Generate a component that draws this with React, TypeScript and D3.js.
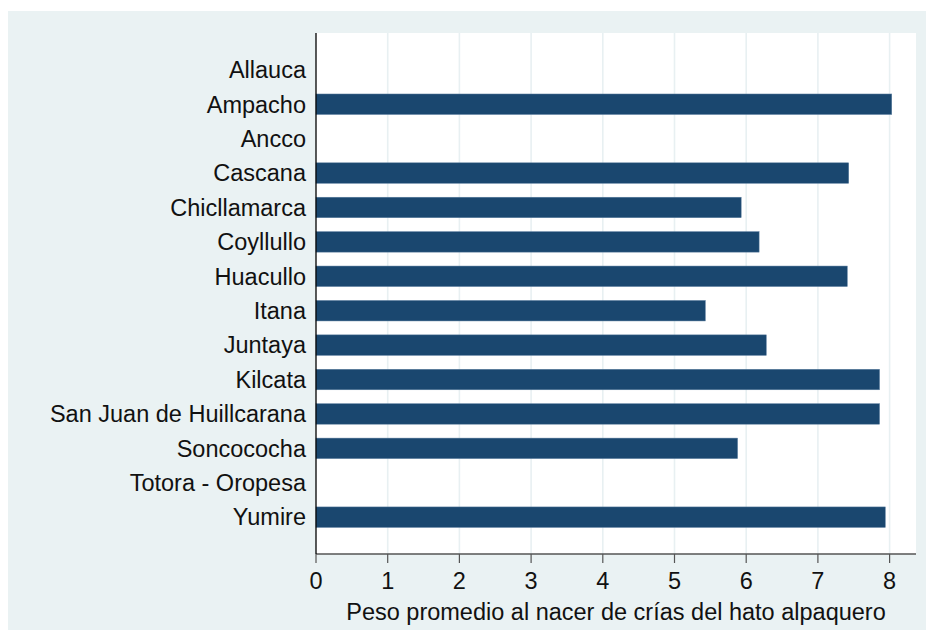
import React from "react";
import * as d3 from "d3";

const categories = [
  "Allauca",
  "Ampacho",
  "Ancco",
  "Cascana",
  "Chicllamarca",
  "Coyllullo",
  "Huacullo",
  "Itana",
  "Juntaya",
  "Kilcata",
  "San Juan de Huillcarana",
  "Soncococha",
  "Totora - Oropesa",
  "Yumire",
];
const values: (number | null)[] = [
  null, 8.03, null, 7.43, 5.93, 6.18, 7.41, 5.43, 6.28, 7.86, 7.86, 5.88, null, 7.94,
];
const xTicks = [0, 1, 2, 3, 4, 5, 6, 7, 8];
const xTitle = "Peso promedio al nacer de crías del hato alpaquero";

const W = 926;
const H = 630;
const plot = { left: 316, right: 916, top: 33, bottom: 554 };
const FONT = "'Liberation Sans', Arial, sans-serif";
const FS = 23.5;

export default function App() {
  const x = d3.scaleLinear().domain([0, 8]).range([plot.left, plot.left + 8 * 71.7]);
  const y = d3
    .scalePoint<string>()
    .domain(categories)
    .range([plot.top, plot.bottom])
    .padding(1.07);
  const barH = 20.5;

  return (
    <svg
      width={W}
      height={H}
      style={{ position: "absolute", left: 0, top: 0, display: "block" }}
      fontFamily={FONT}
    >
      <rect x={0} y={0} width={W} height={H} fill="#ffffff" />
      <rect x={8} y={11} width={W - 8} height={H - 11} fill="#eaf2f3" />
      <rect
        x={plot.left}
        y={plot.top}
        width={plot.right - plot.left}
        height={plot.bottom - plot.top}
        fill="#ffffff"
      />
      {xTicks.map((t) =>
        t === 0 ? null : (
          <line
            key={"g" + t}
            x1={x(t)}
            x2={x(t)}
            y1={plot.top}
            y2={plot.bottom}
            stroke="#e8f0f2"
            strokeWidth={1.6}
          />
        )
      )}
      {categories.map((c, i) => {
        const v = values[i];
        const cy = y(c) as number;
        return (
          <g key={c}>
            {v != null && (
              <rect
                x={x(0)}
                y={cy - barH / 2}
                width={x(v) - x(0)}
                height={barH}
                fill="#1a476f"
                stroke="#5d7f9f"
                strokeWidth={0.5}
              />
            )}
            <text
              x={306}
              y={cy + 8.3}
              textAnchor="end"
              fontSize={FS}
              fill="#111"
            >
              {c}
            </text>
          </g>
        );
      })}
      <line
        x1={plot.left}
        x2={plot.right}
        y1={plot.bottom}
        y2={plot.bottom}
        stroke="#555"
        strokeWidth={1.3}
      />
      <line
        x1={plot.left}
        x2={plot.left}
        y1={plot.top}
        y2={plot.bottom}
        stroke="#000"
        strokeWidth={1.3}
      />
      {xTicks.map((t) => (
        <g key={"t" + t}>
          <line
            x1={x(t)}
            x2={x(t)}
            y1={plot.bottom}
            y2={plot.bottom + 9}
            stroke="#555"
            strokeWidth={1.2}
          />
          <text
            x={x(t)}
            y={588.5}
            textAnchor="middle"
            fontSize={FS}
            fill="#111"
          >
            {t}
          </text>
        </g>
      ))}
      <text
        x={(plot.left + plot.right) / 2}
        y={619.5}
        textAnchor="middle"
        fontSize={FS}
        fill="#111"
      >
        {xTitle}
      </text>
    </svg>
  );
}
